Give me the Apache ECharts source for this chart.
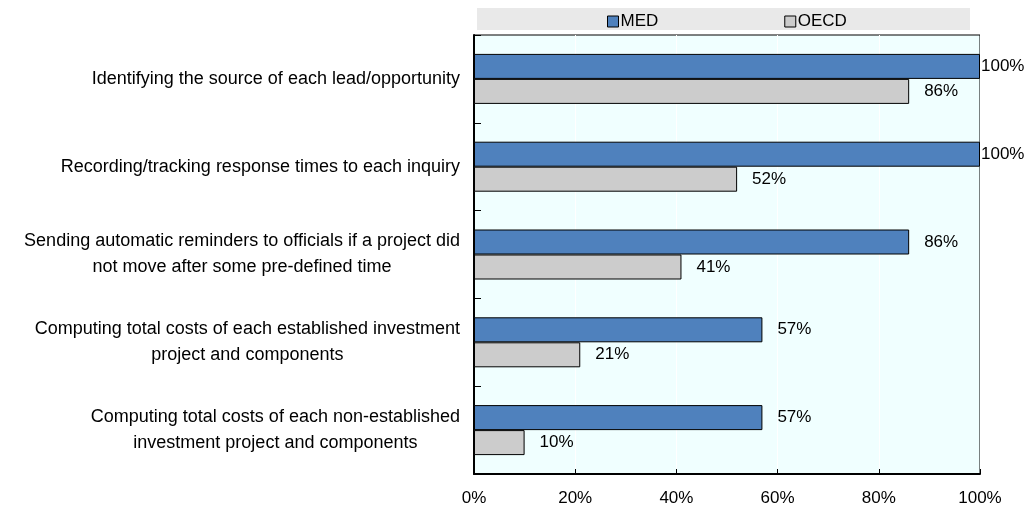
<!DOCTYPE html>
<html>
<head>
<meta charset="utf-8">
<script src="https://cdn.jsdelivr.net/npm/echarts@6/dist/echarts.min.js"></script>
<style>
  html, body { margin: 0; padding: 0; background: #ffffff; }
  #chart { width: 1032px; height: 514px; }
</style>
</head>
<body>
<div id="chart"></div>
<script>
// Activities tracked by investment promotion agencies
const categories = [
  'Identifying the source of each lead/opportunity',
  'Recording/tracking response times to each inquiry',
  'Sending automatic reminders to officials if a project did\nnot move after some pre-defined time',
  'Computing total costs of each established investment\nproject and components',
  'Computing total costs of each non-established\ninvestment project and components'
];
const medValues = [100, 100, 86, 57, 57];
const oecdValues = [86, 52, 41, 21, 10];
const xTicks = [0, 20, 40, 60, 80, 100];

const FONT = '"Liberation Sans Narrow", "Arial Narrow", "Liberation Sans", Arial, sans-serif';
const TEXT = '#000000';

// Value labels sit a little right of each bar; full-length bars keep them flush to the frame.
function withLabels(values) {
  return values.map(v => ({
    value: v,
    label: { distance: v >= 100 ? 1 : 15 }
  }));
}

const chart = echarts.init(document.getElementById('chart'));
chart.setOption({
  animation: false,
  textStyle: { fontFamily: FONT },
  graphic: [{
    type: 'rect',
    left: 477, top: 8,
    shape: { width: 493, height: 22 },
    style: { fill: '#e9e9e9' },
    z: -1
  }],
  legend: {
    top: 8,
    left: 602,
    itemGap: 126,
    itemWidth: 11,
    itemHeight: 11,
    icon: 'rect',
    itemStyle: { borderColor: '#000', borderWidth: 1 },
    textStyle: { fontFamily: FONT, fontSize: 17, color: TEXT, padding: [0, 0, 0, -3] },
    data: ['MED', 'OECD']
  },
  grid: {
    left: 474, right: 52, top: 35, bottom: 40,
    show: true,
    backgroundColor: '#f0ffff',
    borderColor: '#000000',
    borderWidth: 1
  },
  xAxis: {
    type: 'value',
    min: 0, max: 100, interval: 20,
    axisLine: { show: true, lineStyle: { color: '#000', width: 2 } },
    axisTick: { show: true, inside: true, length: 5, lineStyle: { color: '#000', width: 1 } },
    splitLine: { show: true, lineStyle: { color: '#ffffff', width: 1 } },
    axisLabel: {
      fontFamily: FONT, fontSize: 17, color: TEXT, margin: 16,
      formatter: v => (xTicks.includes(v) ? v + '%' : '')
    }
  },
  yAxis: {
    type: 'category',
    inverse: true,
    data: categories,
    axisLine: { show: true, lineStyle: { color: '#000', width: 2 } },
    axisTick: { show: true, inside: true, length: 7, lineStyle: { color: '#000', width: 1 } },
    axisLabel: {
      margin: 14,
      align: 'right',
      formatter: v => v.split('\n').map(l => '{c|' + l + '}').join('\n'),
      rich: {
        c: { fontFamily: FONT, fontSize: 18, color: TEXT, align: 'center', lineHeight: 26 }
      }
    }
  },
  series: [
    {
      name: 'MED',
      type: 'bar',
      data: withLabels(medValues),
      barWidth: 25,
      barGap: '0%',
      itemStyle: { color: '#4f81bd', borderColor: '#000', borderWidth: 1 },
      label: {
        show: true, position: 'right',
        fontFamily: FONT, fontSize: 17, color: TEXT,
        formatter: p => p.value + '%'
      }
    },
    {
      name: 'OECD',
      type: 'bar',
      data: withLabels(oecdValues),
      barWidth: 25,
      barGap: '0%',
      itemStyle: { color: '#cccccc', borderColor: '#000', borderWidth: 1 },
      label: {
        show: true, position: 'right',
        fontFamily: FONT, fontSize: 17, color: TEXT,
        formatter: p => p.value + '%'
      }
    }
  ]
});
</script>
</body>
</html>
